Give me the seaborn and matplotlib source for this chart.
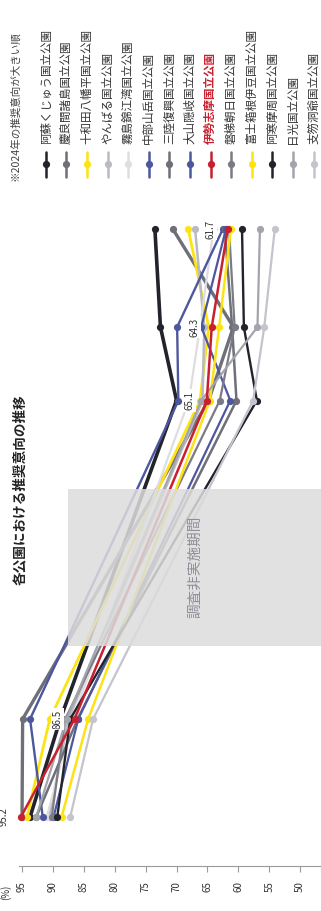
import pandas as pd
import seaborn as sns
import matplotlib.pyplot as plt
from matplotlib.patches import Rectangle
from matplotlib.lines import Line2D

# figure size in pixels (chart is drawn rotated: value axis at the bottom, time running upward)
W, H = 321, 911

# survey timing (fractional year), oldest first
survey_t = [2018.0, 2019.0, 2022.25, 2023.0, 2024.0]

# legend order = 2024 recommendation, high to low
parks = ["阿蘇くじゅう国立公園", "慶良間諸島国立公園", "十和田八幡平国立公園", "やんばる国立公園",
         "霧島錦江湾国立公園", "中部山岳国立公園", "三陸復興国立公園", "大山隠岐国立公園",
         "伊勢志摩国立公園", "磐梯朝日国立公園", "富士箱根伊豆国立公園", "阿寒摩周国立公園",
         "日光国立公園", "支笏洞爺国立公園"]

# recommendation (%) per survey
aso = [93.7, 88.8, 70.0, 72.6, 73.5]
kerama = [95.0, 94.9, 64.8, 60.8, 70.6]
towada = [94.2, 90.5, 66.2, 64.8, 68.1]
yanbaru = [90.6, 87.5, 65.8, 65.5, 67.0]
kirishima = [91.0, 86.8, 68.0, 66.2, 64.0]
chubu = [91.65, 93.7, 69.7, 69.9, 62.5]
sanriku = [92.7, 86.0, 60.3, 61.0, 62.2]
daisen = [89.9, 85.9, 61.3, 66.0, 62.0]
ise = [95.2, 86.5, 65.1, 64.3, 61.7]
bandai = [90.2, 88.0, 63.0, 60.6, 61.5]
fuji = [88.6, 84.3, 64.6, 63.1, 61.2]
akan = [89.3, 87.2, 57.0, 59.1, 59.4]
nikko = [92.7, 87.8, 66.0, 56.9, 56.5]
shikotsu = [87.2, 83.5, 57.6, 55.8, 54.1]
series = [aso, kerama, towada, yanbaru, kirishima, chubu, sanriku, daisen,
          ise, bandai, fuji, akan, nikko, shikotsu]

colors = ["#22232b", "#6e6f78", "#fde314", "#b9bac2", "#dedee2", "#4d579e", "#6e6f78",
          "#4d579e", "#c8202f", "#7a7b84", "#fde314", "#22232b", "#a3a4ac", "#c3c4cc"]
widths = [2.6, 2.4, 2.0, 1.8, 1.6, 1.7, 1.8, 1.6, 1.8, 1.6, 1.8, 1.7, 1.6, 1.6]

# gap period with no survey
gap_t = (2019.74, 2021.35)
gap_top_value = 87.6

rows = []
for park, vals in zip(parks, series):
    for t, v in zip(survey_t, vals):
        rows.append({"park": park, "t": t, "value": v})
df = pd.DataFrame(rows)

sns.set_theme(style="white")
plt.rcParams["font.family"] = ["Noto Sans CJK JP", "DejaVu Sans"]

fig = plt.figure(figsize=(W / 100, H / 100), dpi=100)


def fx(x):
    return x / W


def fy(y):
    return 1 - y / H


ax = fig.add_axes([fx(19), fy(866), fx(321) - fx(19), fy(215) - fy(866)])

# draw red last so it sits on top
order = [i for i in range(len(parks)) if parks[i] != "伊勢志摩国立公園"] + [parks.index("伊勢志摩国立公園")]
for i in order:
    sub = df[df.park == parks[i]]
    sns.lineplot(data=sub, x="value", y="t", orient="y", ax=ax, color=colors[i],
                 lw=widths[i], marker="o", markersize=5.2, markeredgewidth=0,
                 legend=False, zorder=3 if i == 8 else 2, clip_on=False)

xmin, xmax = 95.49, 46.62
ax.set_xlim(xmin, xmax)
ax.set_ylim(2017.5, 2024.143)

ax.add_patch(Rectangle((xmax, gap_t[0]), gap_top_value - xmax, gap_t[1] - gap_t[0],
                       facecolor="#dcdcdc", edgecolor="none", alpha=0.86, zorder=4))
ax.text(67.0, 2020.55, "調査非実施期間", rotation=90, ha="center", va="center",
        fontsize=10.5, color="#8e8f99", zorder=5)

# value labels for 伊勢志摩
for t, v in zip(survey_t, ise):
    ax.annotate(f"{v:.1f}", (v, t), xytext=(-17, 0), textcoords="offset pixels",
                rotation=90, ha="center", va="center", fontsize=7, color="#333333",
                bbox=dict(boxstyle="square,pad=0.15", fc="white", ec="none"), zorder=6)

ax.set_xticks(list(range(50, 100, 5)))
ax.set_xticklabels([str(v) for v in range(50, 100, 5)], rotation=90)
ax.set_yticks([])
ax.set_xlabel("")
ax.set_ylabel("")
for s in ["left", "right", "top"]:
    ax.spines[s].set_visible(False)
ax.spines["bottom"].set_color("#9a9a9a")
ax.spines["bottom"].set_linewidth(0.8)
ax.tick_params(axis="x", bottom=True, direction="out", length=4, width=0.8,
               color="#9a9a9a", labelsize=7, labelcolor="#333333", pad=7)

fig.text(fx(6), fy(892), "(%)", rotation=90, ha="center", va="center", fontsize=7, color="#333333")

# title
fig.text(fx(20), fy(490), "各公園における推奨意向の推移", rotation=90, ha="center", va="center",
         fontsize=9.8, fontweight="bold", color="#222222")

# note + manual legend (vertical entries)
fig.text(fx(15), fy(181), "※2024年の推奨意向が大きい順", rotation=90, ha="center", va="bottom",
         fontsize=7.6, color="#444444")
for i, park in enumerate(parks):
    x = 45.7 + i * 20.6
    fig.add_artist(Line2D([fx(x), fx(x)], [fy(177), fy(152)], color=colors[i], lw=1.8))
    fig.add_artist(Line2D([fx(x)], [fy(164)], color=colors[i], marker="o",
                          markersize=5.2, markeredgewidth=0, lw=0))
    red = park == "伊勢志摩国立公園"
    fig.text(fx(x), fy(144), park, rotation=90, ha="center", va="bottom", fontsize=8.3,
             color="#c8202f" if red else "#333333", fontweight="bold" if red else "normal")

fig.savefig("out.png", dpi=100)
